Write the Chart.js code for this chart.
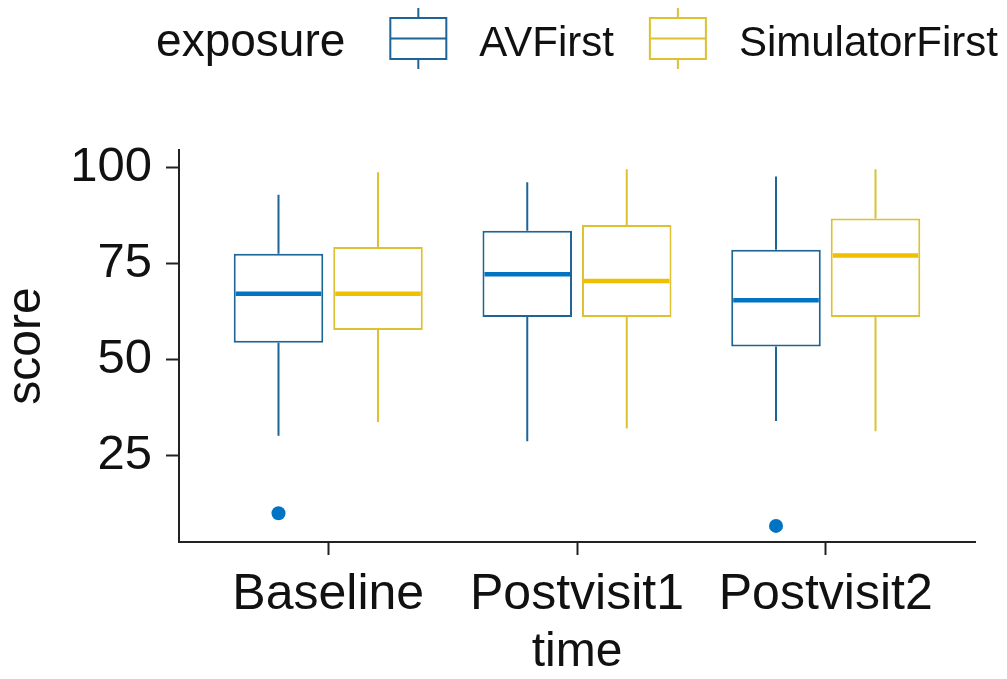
<!DOCTYPE html>
<html>
<head>
<meta charset="utf-8">
<script src="https://cdn.jsdelivr.net/npm/chart.js@4.4.1/dist/chart.umd.min.js"></script>
<style>
  html, body { margin: 0; padding: 0; background: #fff; }
  canvas { display: block; }
</style>
</head>
<body>
<canvas id="boxChart" width="1007" height="679"></canvas>
<script>
// categories and tick positions
const timeLabels = ['Baseline', 'Postvisit1', 'Postvisit2'];
const xTickValues = [1, 2, 3];
const yTickValues = [25, 50, 75, 100];
const seriesNames = ['AVFirst', 'SimulatorFirst'];

// AVFirst box stats
const avMin = [30, 28.6, 33.9];
const avQ1 = [54.3, 61, 53.3];
const avMedian = [67.1, 72.2, 65.4];
const avQ3 = [77.5, 83.5, 78.6];
const avMax = [92.9, 96.2, 97.7];
const avOutliers = [[9.8], [], [6.5]];

// SimulatorFirst box stats
const simMin = [33.6, 31.9, 31.2];
const simQ1 = [57.6, 61, 61];
const simMedian = [67.1, 70.4, 77.1];
const simQ3 = [79.3, 85, 86.7];
const simMax = [98.8, 99.6, 99.6];
const simOutliers = [[], [], []];

const blue = '#0073C2';
const yellow = '#EFC000';
const blueLine = '#1f6496';
const yellowLine = '#dcc232';
const ink = '#111111';
const fontFamily = "'Liberation Sans', Arial, sans-serif";

function boxDataset(label, color, lineColor, q1, q3, min, median, max, outliers) {
  return {
    label,
    data: xTickValues.map((x, i) => ({ x, y: [q1[i], q3[i]] })),
    backgroundColor: '#ffffff',
    borderColor: lineColor,
    borderWidth: 2,
    borderSkipped: false,
    fillColor: color,
    stats: { min, median, max, outliers }
  };
}

// whiskers, medians and outliers on top of the floating bars
const boxWhiskers = {
  id: 'boxWhiskers',
  afterDatasetsDraw(chart) {
    const ctx = chart.ctx;
    const yScale = chart.scales.y;
    chart.data.datasets.forEach((ds, i) => {
      const meta = chart.getDatasetMeta(i);
      meta.data.forEach((bar, j) => {
        const x = bar.x;
        const half = bar.width / 2;
        const s = ds.stats;
        ctx.save();
        ctx.strokeStyle = ds.borderColor;
        ctx.lineWidth = 2;
        ctx.beginPath();
        ctx.moveTo(x, yScale.getPixelForValue(s.max[j]));
        ctx.lineTo(x, yScale.getPixelForValue(ds.data[j].y[1]));
        ctx.moveTo(x, yScale.getPixelForValue(ds.data[j].y[0]));
        ctx.lineTo(x, yScale.getPixelForValue(s.min[j]));
        ctx.stroke();

        ctx.strokeStyle = ds.fillColor;
        ctx.lineWidth = 4.5;
        ctx.beginPath();
        const my = yScale.getPixelForValue(s.median[j]);
        ctx.moveTo(x - half + 2, my);
        ctx.lineTo(x + half - 2, my);
        ctx.stroke();

        ctx.fillStyle = ds.fillColor;
        s.outliers[j].forEach(v => {
          ctx.beginPath();
          ctx.arc(x, yScale.getPixelForValue(v), 7, 0, Math.PI * 2);
          ctx.fill();
        });
        ctx.restore();
      });
    });
  }
};

function drawKey(ctx, cx, cy, color) {
  ctx.save();
  ctx.strokeStyle = color;
  ctx.lineWidth = 2;
  ctx.strokeRect(cx - 28, cy - 20.5, 56, 41);
  ctx.beginPath();
  ctx.moveTo(cx - 28, cy);
  ctx.lineTo(cx + 28, cy);
  ctx.moveTo(cx, cy - 30.5);
  ctx.lineTo(cx, cy - 20.5);
  ctx.moveTo(cx, cy + 20.5);
  ctx.lineTo(cx, cy + 30.5);
  ctx.stroke();
  ctx.restore();
}

// ggplot style legend: title inline with the keys, centred over the panel
const boxLegend = {
  id: 'boxLegend',
  afterDraw(chart) {
    const ctx = chart.ctx;
    const area = chart.chartArea;
    const colors = chart.data.datasets.map(d => d.borderColor);
    const titleFont = '46px ' + fontFamily;
    const itemFont = '42px ' + fontFamily;
    ctx.save();
    ctx.font = titleFont;
    const titleW = ctx.measureText('exposure').width;
    ctx.font = itemFont;
    const itemW = seriesNames.map(n => ctx.measureText(n).width);
    const keyW = 56, gapTitle = 45, gapKey = 33, gapItem = 36;
    const total = titleW + gapTitle + keyW + gapKey + itemW[0] + gapItem + keyW + gapKey + itemW[1];
    let x = (area.left + area.right) / 2 - total / 2;
    const baseY = 56;
    ctx.fillStyle = ink;
    ctx.textBaseline = 'alphabetic';
    ctx.textAlign = 'left';
    ctx.font = titleFont;
    ctx.fillText('exposure', x, baseY);
    x += titleW + gapTitle;
    ctx.font = itemFont;
    seriesNames.forEach((name, i) => {
      drawKey(ctx, x + keyW / 2, 38.5, colors[i]);
      x += keyW + gapKey;
      ctx.fillStyle = ink;
      ctx.fillText(name, x, baseY);
      x += itemW[i] + gapItem;
    });
    ctx.restore();
  }
};

const ctx = document.getElementById('boxChart').getContext('2d');
const boxChart = new Chart(ctx, {
  type: 'bar',
  data: {
    datasets: [
      boxDataset(seriesNames[0], blue, blueLine, avQ1, avQ3, avMin, avMedian, avMax, avOutliers),
      boxDataset(seriesNames[1], yellow, yellowLine, simQ1, simQ3, simMin, simMedian, simMax, simOutliers)
    ]
  },
  options: {
    responsive: false,
    animation: false,
    categoryPercentage: 0.8,
    barPercentage: 0.9,
    layout: { padding: { top: 150, right: 32, bottom: 0, left: 0 } },
    plugins: {
      legend: { display: false },
      tooltip: { enabled: false }
    },
    scales: {
      x: {
        type: 'linear',
        min: 0.4,
        max: 3.6,
        offset: false,
        afterBuildTicks: scale => { scale.ticks = xTickValues.map(v => ({ value: v })); },
        afterFit: scale => { scale.height = 137; },
        ticks: {
          color: ink,
          padding: 10,
          maxRotation: 0,
          autoSkip: false,
          font: { family: fontFamily, size: 50 },
          callback: value => timeLabels[value - 1]
        },
        grid: { drawOnChartArea: false, drawTicks: true, tickLength: 13, tickWidth: 2, tickColor: '#222', offset: false },
        border: { display: true, color: '#222', width: 2 },
        title: {
          display: true,
          text: 'time',
          color: ink,
          padding: { top: 0, bottom: 0 },
          font: { family: fontFamily, size: 48, lineHeight: 1.1 }
        }
      },
      y: {
        min: 2.3,
        max: 104.6,
        afterBuildTicks: scale => { scale.ticks = yTickValues.map(v => ({ value: v })); },
        afterFit: scale => { scale.width = 179; },
        ticks: {
          color: ink,
          padding: 14,
          font: { family: fontFamily, size: 49 },
          callback: value => String(value)
        },
        grid: { drawOnChartArea: false, drawTicks: true, tickLength: 13, tickWidth: 2, tickColor: '#222' },
        border: { display: true, color: '#222', width: 2 },
        title: {
          display: true,
          text: 'score',
          color: ink,
          padding: { top: 0, bottom: 0 },
          font: { family: fontFamily, size: 48, lineHeight: 1.1 }
        }
      }
    }
  },
  plugins: [boxWhiskers, boxLegend]
});
</script>
</body>
</html>
